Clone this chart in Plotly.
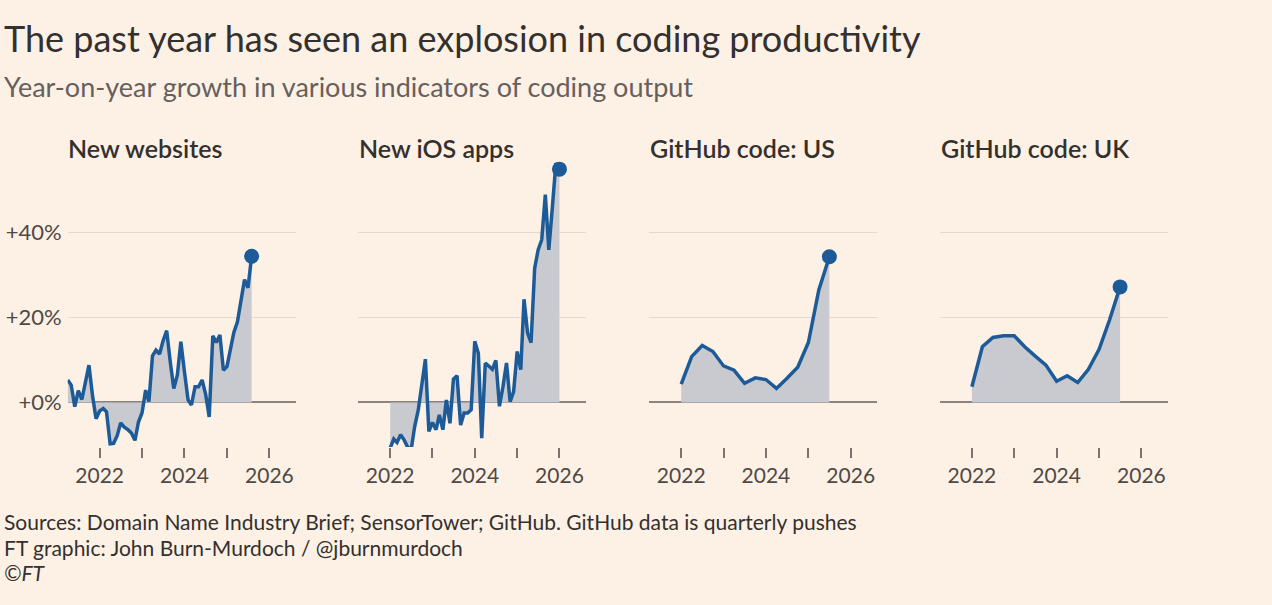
import plotly.graph_objects as go

# monthly data
web_dates = [f"{2021 + (m - 1) // 12}-{(m - 1) % 12 + 1:02d}-01" for m in range(4, 4 + 53)]
web_growth = [5.3, 4.1, -1.0, 2.8, 0.7, 4.5, 8.8, 1.5, -3.8, -2.0, -1.4, -2.2,
              -9.7, -9.6, -7.8, -4.8, -5.8, -6.4, -7.2, -8.9, -4.6, -2.4, 2.9, 0.2,
              11.0, 12.3, 11.4, 14.5, 16.9, 9.5, 3.3, 6.5, 14.3, 7.2, 0.6, -0.6,
              3.7, 3.7, 5.3, 2.0, -3.4, 15.7, 14.1, 15.9, 7.6, 8.5, 12.6, 16.5,
              19.0, 24.5, 28.9, 27.0, 34.4]

ios_dates = [f"{2022 + (m - 1) // 12}-{(m - 1) % 12 + 1:02d}-01" for m in range(1, 1 + 49)]
ios_growth = [-10.7, -8.6, -9.4, -7.6, -8.8, -10.5, -11.1, -5.6, -1.7, 4.5, 10.2, -6.8,
              -4.7, -6.4, -2.9, -6.4, 0.6, -4.9, 5.5, 6.3, -5.3, -2.5, -2.5, -1.7,
              14.4, 11.6, -8.4, 9.3, 8.5, 7.8, 9.9, -0.9, 3.8, 9.3, 0.2, 2.5,
              12.0, 7.7, 24.3, 16.3, 14.1, 31.6, 35.9, 38.3, 48.9, 35.9, 46.0, 56.3,
              54.9]

# quarterly data
gh_dates = [f"{2022 + q // 4}-{(q % 4) * 3 + 1:02d}-01" for q in range(15)]
gh_us = [4.3, 10.8, 13.4, 12.0, 8.6, 7.6, 4.5, 5.8, 5.4, 3.3, 5.7, 8.3, 14.1, 26.5, 34.3]
gh_uk = [3.7, 13.1, 15.3, 15.7, 15.7, 13.1, 10.9, 8.8, 5.0, 6.3, 4.7, 7.8, 12.5, 19.4, 27.2]

panel_titles = ["New websites", "New iOS apps", "GitHub code: US", "GitHub code: UK"]
year_ticks = ["2022-01-01", "2023-01-01", "2024-01-01", "2025-01-01", "2026-01-01"]
year_labels = ["2022", "", "2024", "", "2026"]
pct_ticks = [0, 20, 40]
pct_labels = ["+0%", "+20%", "+40%"]

BG = "#fdf1e6"
LINE = "#1d5a98"
FILL = "#c9cad0"
W, H = 1272, 605
FONT = "Lato"

panels = [(web_dates, web_growth), (ios_dates, ios_growth),
          (gh_dates, gh_us), (gh_dates, gh_uk)]
x_px = [(67.7, 296), (358.3, 586), (649.3, 877.3), (940, 1168)]
y_dom = [1 - 447.1 / H, 1 - 160.25 / H]

fig = go.Figure()
layout = {}
for i, (dates, vals) in enumerate(panels):
    n = "" if i == 0 else str(i + 1)
    fig.add_trace(go.Scatter(
        x=dates, y=vals, mode="lines", fill="tozeroy", fillcolor=FILL,
        line=dict(color=LINE, width=3.5), xaxis="x" + n, yaxis="y" + n,
        hoverinfo="skip"))
    # dot on the latest value
    fig.add_trace(go.Scatter(
        x=dates[-1:], y=vals[-1:], mode="markers",
        marker=dict(color=LINE, size=15), xaxis="x" + n, yaxis="y" + n,
        hoverinfo="skip", cliponaxis=False))
    layout["xaxis" + n] = dict(
        domain=[x_px[i][0] / W, x_px[i][1] / W], anchor="y" + n, type="date",
        range=["2021-04-01", "2026-08-18"], tickvals=year_ticks, ticktext=year_labels,
        ticks="outside", ticklen=10, tickwidth=1.5, tickcolor="#7a736e",
        showgrid=False, zeroline=False, showline=False,
        tickfont=dict(family=FONT, size=21, color="#4f4945"))
    layout["yaxis" + n] = dict(
        domain=y_dom, anchor="x" + n, range=[-10.5, 57], tickvals=pct_ticks,
        ticktext=pct_labels, showticklabels=(i == 0), ticks="",
        ticklabelstandoff=5,
        gridcolor="#e2d9d0", gridwidth=1, zeroline=True, zerolinecolor="#8a837e",
        zerolinewidth=2, layer="above traces",
        tickfont=dict(family=FONT, size=22, color="#4f4945"))
    fig.add_annotation(text=panel_titles[i], xref="paper", yref="paper",
                       x=(x_px[i][0] - 1.5) / W, y=1 - 148 / H, xanchor="left",
                       yanchor="middle", showarrow=False,
                       font=dict(family=FONT, size=25, color="#33302e", weight=600))

fig.update_layout(**layout)

texts = [
    ("The past year has seen an explosion in coding productivity", 38, 36, "#33302e"),
    ("Year-on-year growth in various indicators of coding output", 87, 27, "#66605c"),
    ("Sources: Domain Name Industry Brief; SensorTower; GitHub. GitHub data is quarterly pushes", 521, 21, "#33302e"),
    ("FT graphic: John Burn-Murdoch / @jburnmurdoch", 547, 21, "#33302e"),
    ("<i>©FT</i>", 572, 21, "#33302e"),
]
for t, yy, sz, col in texts:
    fig.add_annotation(text=t, xref="paper", yref="paper", x=2 / W, y=1 - yy / H,
                       xanchor="left", yanchor="middle", showarrow=False,
                       font=dict(family=FONT, size=sz, color=col))

fig.update_layout(
    width=W, height=H, margin=dict(l=0, r=0, t=0, b=0),
    paper_bgcolor=BG, plot_bgcolor=BG, showlegend=False,
)

fig.write_html("out.html", config={"displayModeBar": False},
               post_script="document.body.style.margin='0';"
                           f"document.body.style.background='{BG}';")
